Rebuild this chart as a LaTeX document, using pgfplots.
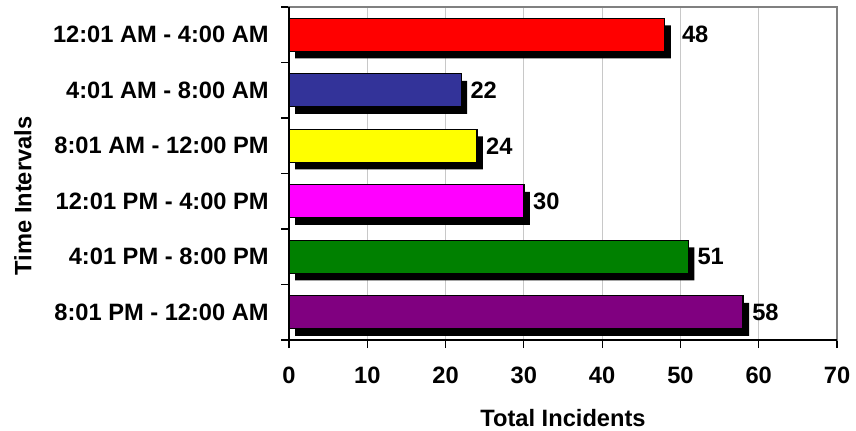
\documentclass[border=0pt]{standalone}
\usepackage{pgfplots}
\pgfplotsset{compat=1.18}
\usepackage{pgfplotstable}
\usepackage{fontspec}
\setmainfont{Liberation Sans}

\definecolor{barRed}{RGB}{255,0,0}
\definecolor{barBlue}{RGB}{51,51,153}
\definecolor{barYellow}{RGB}{255,255,0}
\definecolor{barMagenta}{RGB}{255,0,255}
\definecolor{barGreen}{RGB}{0,128,0}
\definecolor{barPurple}{RGB}{128,0,128}
\definecolor{frameGray}{RGB}{128,128,128}
\definecolor{gridGray}{RGB}{200,200,200}

% incidents per four-hour interval; dx = gap between bar end and its value label
\pgfplotstableread{
idx value dx
0 48 12.75
1 22 6.75
2 24 6.75
3 30 6.75
4 51 6.75
5 58 6.75
}\incidents

\newcommand{\chartfont}{\fontsize{17.75}{20}\selectfont\bfseries}

\begin{document}
\begin{tikzpicture}
\useasboundingbox (0,0) rectangle (642pt,323.25pt);
\begin{axis}[
  at={(216.75pt,68.25pt)}, anchor=south west,
  scale only axis, width=411pt, height=249.75pt,
  xmin=0, xmax=70, ymin=-0.5, ymax=5.5, y dir=reverse,
  xtick={0,10,...,70},
  ytick={-0.5,0.5,...,5.5},
  y tick label as interval,
  yticklabels={12:01 AM - 4:00 AM, 4:01 AM - 8:00 AM, 8:01 AM - 12:00 PM,
               12:01 PM - 4:00 PM, 4:01 PM - 8:00 PM, 8:01 PM - 12:00 AM},
  xtick pos=bottom, ytick pos=left,
  tick align=outside, major tick length=6pt,
  tick style={black, line width=0.9pt},
  xmajorgrids, grid style={gridGray, line width=0.75pt},
  axis line style={frameGray, line width=1pt},
  /pgf/number format/assume math mode=true,
  ticklabel style={font=\chartfont, inner sep=0pt},
  yticklabel style={xshift=-9pt},
  xticklabel style={yshift=-14pt},
  xbar, bar width=24.75pt, bar shift=0pt,
  clip=false,
]
% drop shadows
\addplot[fill=black, draw=none, xshift=4.5pt, yshift=-5.25pt]
  table[x=value, y=idx] {\incidents};
% coloured bars
\addplot[fill=barRed, draw=black, line width=1pt, restrict y to domain=-0.1:0.1]
  table[x=value, y=idx] {\incidents};
\addplot[fill=barBlue, draw=black, line width=1pt, restrict y to domain=0.9:1.1]
  table[x=value, y=idx] {\incidents};
\addplot[fill=barYellow, draw=black, line width=1pt, restrict y to domain=1.9:2.1]
  table[x=value, y=idx] {\incidents};
\addplot[fill=barMagenta, draw=black, line width=1pt, restrict y to domain=2.9:3.1]
  table[x=value, y=idx] {\incidents};
\addplot[fill=barGreen, draw=black, line width=1pt, restrict y to domain=3.9:4.1]
  table[x=value, y=idx] {\incidents};
\addplot[fill=barPurple, draw=black, line width=1pt, restrict y to domain=4.9:5.1]
  table[x=value, y=idx] {\incidents};
% value labels
\addplot[draw=none, fill=none,
  visualization depends on={\thisrow{dx} \as \labeldx},
  nodes near coords,
  nodes near coords style={font=\chartfont, anchor=west, inner sep=0pt,
                           xshift=\labeldx pt, black},
  point meta=explicit]
  table[x=value, y=idx, meta=value] {\incidents};
% left and bottom axis lines in black
\draw[black, line width=1.2pt] (axis description cs:0,1) -- (axis description cs:0,0)
  -- (axis description cs:1,0);
\end{axis}
\node[rotate=90, font=\chartfont, inner sep=0pt] at (17.25pt,176.25pt) {Time Intervals};
\node[font=\chartfont, inner sep=0pt] at (422.25pt,9.75pt) {Total Incidents};
\end{tikzpicture}
\end{document}
